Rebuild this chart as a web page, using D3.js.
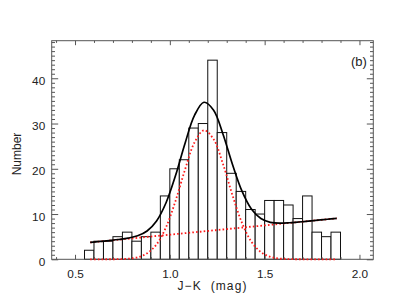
<!DOCTYPE html>
<html>
<head>
<meta charset="utf-8">
<script src="https://cdn.jsdelivr.net/npm/d3@7"></script>
<style>
	body {margin: 0; background: #fff;}
	svg text {font-family: "Liberation Sans", Arial, Helvetica, sans-serif; fill: #222;}
	.frame {fill: none; stroke: #555; stroke-width: 1;}
	.bars rect {fill: #fff; stroke: #111; stroke-width: 1;}
	.axis path.domain {display: none;}
	.axis line {stroke: #555;}
</style>
</head>
<body>
<div id="chart"></div>
<script>
// histogram bins (left edges) and counts
var binStarts = [0.55, 0.60, 0.65, 0.70, 0.75, 0.80, 0.85, 0.90, 0.95, 1.00, 1.05, 1.10, 1.15, 1.20,
	1.25, 1.30, 1.35, 1.40, 1.45, 1.50, 1.55, 1.60, 1.65, 1.70, 1.75, 1.80, 1.85];
var counts = [2, 4, 4, 5, 6, 4, 5, 6, 14, 20, 22, 29, 30, 44, 28, 19, 15, 11, 10, 13, 13, 12, 9, 14, 6, 5, 6];
var binWidth = 0.05;

// fit curves
var fitX = [0.58, 0.63, 0.68, 0.73, 0.78, 0.83, 0.88, 0.93, 0.98, 1.03, 1.08, 1.13, 1.18, 1.23,
	1.28, 1.33, 1.38, 1.43, 1.48, 1.53, 1.58, 1.63, 1.68, 1.73, 1.78, 1.83, 1.88];
var totalY = [3.72, 3.93, 4.14, 4.37, 4.67, 5.19, 6.26, 8.47, 12.5, 18.5, 25.6, 31.8, 34.7, 33.0,
	27.7, 21.0, 15.1, 11.1, 9.0, 8.17, 7.98, 8.07, 8.24, 8.44, 8.64, 8.85, 9.05];
var gaussY = [0, 0, 0.01, 0.03, 0.13, 0.44, 1.31, 3.31, 7.1, 12.9, 19.8, 25.8, 28.5, 26.6,
	21.1, 14.2, 8.1, 3.9, 1.6, 0.55, 0.16, 0.04, 0.01, 0, 0, 0, 0];
var lineX = [0.58, 1.88];
var lineY = [3.72, 9.05];

var xTicks = [0.5, 1.0, 1.5, 2.0];
var xTickLabels = ["0.5", "1.0", "1.5", "2.0"];
var yTicks = [0, 10, 20, 30, 40];
var xMinor = [0.4, 0.6, 0.7, 0.8, 0.9, 1.1, 1.2, 1.3, 1.4, 1.6, 1.7, 1.8, 1.9];
var yMinor = d3.range(0, 49).filter(function(v) {return v % 10 != 0;});

var width = 415, height = 297;
var box = {left: 51.7, right: 373.3, top: 40.7, bottom: 259.3};

var svg = d3.select("div#chart").append("svg")
	.attr("width", width)
	.attr("height", height);

var x = d3.scaleLinear().domain([0.377, 2.073]).range([box.left, box.right]);
var y = d3.scaleLinear().domain([0, 48.3]).range([box.bottom, box.top]);

// bars
svg.append("g")
	.attr("class", "bars")
	.selectAll("rect")
	.data(counts)
	.enter()
	.append("rect")
	.attr("x", function(d, i) {return x(binStarts[i]);})
	.attr("width", function(d, i) {return x(binStarts[i] + binWidth) - x(binStarts[i]);})
	.attr("y", function(d) {return y(d);})
	.attr("height", function(d) {return y(0) - y(d);});

// axes, ticks pointing inward on all four sides
function addAxis(axis, tx, ty) {
	var g = svg.append("g")
		.attr("class", "axis")
		.attr("transform", "translate(" + tx + "," + ty + ")")
		.call(axis);
	g.selectAll("text").style("font-size", "11.8px").style("fill", "#222");
	return g;
}

addAxis(d3.axisBottom(x).tickValues(xTicks).tickSize(-4.5).tickPadding(10.5)
	.tickFormat(function(d, i) {return xTickLabels[i];}), 0, box.bottom);
addAxis(d3.axisBottom(x).tickValues(xMinor).tickSize(-2.2).tickFormat(""), 0, box.bottom);
addAxis(d3.axisTop(x).tickValues(xTicks).tickSize(-4.5).tickFormat(""), 0, box.top);
addAxis(d3.axisTop(x).tickValues(xMinor).tickSize(-2.2).tickFormat(""), 0, box.top);

var yAxisG = addAxis(d3.axisLeft(y).tickValues(yTicks).tickSize(-6.5).tickPadding(6.5), box.left, 0);
yAxisG.selectAll("text").attr("dy", "0.52em");
addAxis(d3.axisLeft(y).tickValues(yMinor).tickSize(-3.3).tickFormat(""), box.left, 0);
addAxis(d3.axisRight(y).tickValues(yTicks).tickSize(-6.5).tickFormat(""), box.right, 0);
addAxis(d3.axisRight(y).tickValues(yMinor).tickSize(-3.3).tickFormat(""), box.right, 0);

svg.append("rect")
	.attr("class", "frame")
	.attr("x", box.left)
	.attr("y", box.top)
	.attr("width", box.right - box.left)
	.attr("height", box.bottom - box.top);

// fit curves
var curve = d3.line()
	.x(function(d) {return x(d[0]);})
	.y(function(d) {return y(d[1]);})
	.curve(d3.curveCatmullRom);

svg.append("path")
	.datum(fitX.map(function(v, i) {return [v, gaussY[i]];}))
	.attr("d", curve)
	.attr("fill", "none")
	.attr("stroke", "#ff1a1a")
	.attr("stroke-width", 1.8)
	.attr("stroke-dasharray", "1.6,2.2");

svg.append("path")
	.datum(lineX.map(function(v, i) {return [v, lineY[i]];}))
	.attr("d", curve)
	.attr("fill", "none")
	.attr("stroke", "#ff1a1a")
	.attr("stroke-width", 1.8)
	.attr("stroke-dasharray", "1.6,2.2");

svg.append("path")
	.datum(fitX.map(function(v, i) {return [v, totalY[i]];}))
	.attr("d", curve)
	.attr("fill", "none")
	.attr("stroke", "#000")
	.attr("stroke-width", 1.7);

// labels
svg.append("text")
	.attr("x", (box.left + box.right) / 2)
	.attr("y", 290)
	.attr("text-anchor", "middle")
	.style("font-size", "12px")
	.style("letter-spacing", "1.1px")
	.style("white-space", "pre")
	.text("J\u2212K  (mag)");

svg.append("text")
	.attr("transform", "translate(21,154) rotate(-90)")
	.attr("text-anchor", "middle")
	.style("font-size", "12px")
	.text("Number");

svg.append("text")
	.attr("x", 351)
	.attr("y", 66)
	.style("font-size", "13px")
	.text("(b)");
</script>
</body>
</html>
